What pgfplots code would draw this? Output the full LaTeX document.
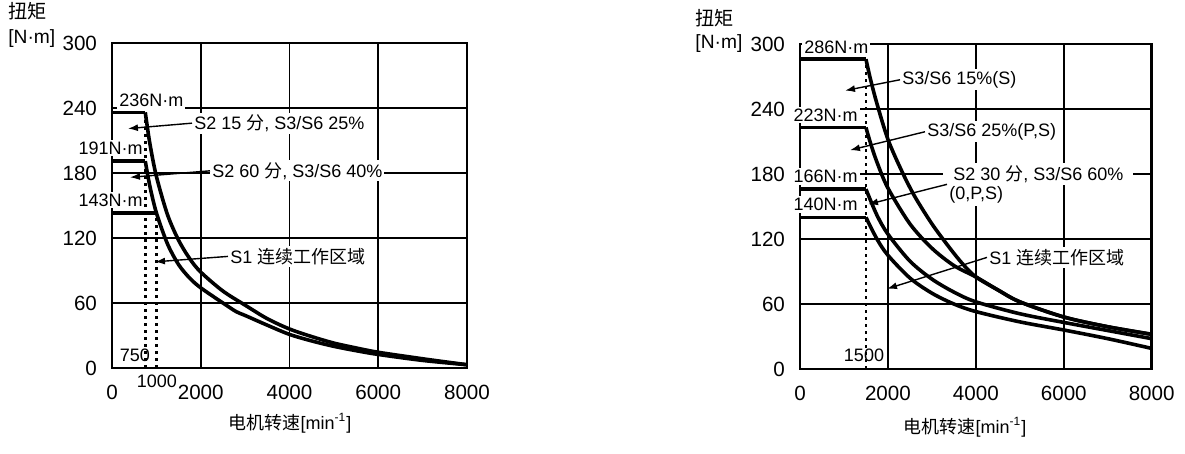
\documentclass[border=0pt]{standalone}
\usepackage{pgfplots}
\pgfplotsset{compat=1.18}
\usepackage{fontspec}
\setmainfont{Liberation Sans}
\newfontfamily\cjk{Noto Sans CJK SC}
\usetikzlibrary{arrows.meta}

\newcommand{\lab}{\fontsize{9}{10}\selectfont}
\newcommand{\ylab}{\fontsize{9.6}{11}\selectfont}

\pgfplotsset{
  torque/.style={
    scale only axis, anchor=south west, clip=false,
    height=162.5pt,
    xmin=0, xmax=8000, ymin=0, ymax=300,
    xtick={0,2000,4000,6000,8000},
    ytick={0,60,120,180,240,300},
    scaled ticks=false,
    grid=major,
    major grid style={black, line width=0.9pt},
    axis line style={line width=1.2pt},
    major tick length=0pt,
    tick label style={font=\fontsize{10.3}{12}\selectfont},
    /pgf/number format/assume math mode=true,
    /pgf/number format/set thousands separator={},
    yticklabel style={xshift=-4pt},
    xticklabel style={yshift=-5pt},
  },
  curve/.style={black, line width=1.8pt, no markers},
  flat/.style={black, line width=1.8pt, no markers},
  dots/.style={black, line width=1.4pt, dash pattern=on 1.4pt off 2.1pt, no markers},
}
\tikzset{
  lbl/.style={fill=white, inner sep=1pt, font=\lab},
  arr/.style={-{Latex[length=5pt,width=3.5pt]}, line width=0.7pt},
}

\begin{document}
\begin{tikzpicture}
\path[use as bounding box] (0,0) rectangle (592.5pt,227pt);

% left: 750 / 1000 rpm motor
\begin{axis}[torque, at={(56pt,43pt)}, width=177.5pt]
  \node[lbl, anchor=west] at (axis cs:113,247) {236N·m};
  \node[lbl, anchor=east] at (axis cs:744,203) {191N·m};
  \node[lbl, anchor=east] at (axis cs:744,155) {143N·m};
  \node[lbl, anchor=west] (a1) at (axis cs:1803,226) {S2 15 {\cjk 分}, S3/S6 25\%};
  \node[lbl, anchor=west] (a2) at (axis cs:2208,182) {S2 60 {\cjk 分}, S3/S6 40\%};
  \node[lbl, anchor=west] (a3) at (axis cs:2614,103) {S1 {\cjk 连续工作区域}};
  \node[font=\lab] at (axis cs:518,12) {750};
  \node[font=\lab] at (axis cs:1014,-12) {1000};
  \node[font=\ylab, anchor=west, inner sep=0pt] at (axis cs:-2344,329) {\cjk 扭矩};
  \node[font=\ylab, anchor=west, inner sep=0pt] at (axis cs:-2344,304) {[N·m]};
  \node[font=\lab] at (axis cs:4011,-51) {{\cjk 电机转速}[min\textsuperscript{-1}]};

  \addplot[dots] coordinates {(750,0) (750,232)};
  \addplot[dots] coordinates {(1000,0) (1000,140)};

  \addplot[flat] coordinates {(0,236) (750,236)};
  \addplot[flat] coordinates {(0,191) (750,191)};
  \addplot[flat] coordinates {(0,143) (1000,143)};
  \addplot[curve, smooth] coordinates {
    (750,236) (850,208) (1000,177) (1250,141.6) (1500,118) (1750,101)
    (2000,88.5) (2500,71) (3000,58) (3500,45.5) (4000,36) (4500,29)
    (5000,23) (5500,18.5) (6000,14.5) (7000,8.5) (8000,3)};
  \addplot[curve, smooth] coordinates {
    (750,191) (850,168.5) (1000,143.3) (1250,114.6) (1500,95.5) (1750,83)
    (2000,74) (2500,60) (2800,52) (3000,48.5) (3500,39.5) (4000,31)
    (4500,25) (5000,20) (5500,16) (6000,12.5) (7000,7) (8000,3)};

  \draw[arr] (a1.west) -- (axis cs:360,221);
  \draw[arr] (a2.west) -- (axis cs:405,176);
  \draw[arr] (a3.west) -- (axis cs:969,98);
\end{axis}

% right: 1500 rpm motor
\begin{axis}[torque, at={(400pt,42.5pt)}, width=175.85pt]
  \node[lbl, anchor=west] at (axis cs:45,297) {286N·m};
  \node[lbl, anchor=east] at (axis cs:1365,234.5) {223N·m};
  \node[lbl, anchor=east] at (axis cs:1365,178) {166N·m};
  \node[lbl, anchor=east] at (axis cs:1365,152) {140N·m};
  \node[lbl, anchor=west] (b1) at (axis cs:2275,267) {S3/S6 15\%(S)};
  \node[lbl, anchor=west] (b2) at (axis cs:2843,219) {S3/S6 25\%(P,S)};
  \node[lbl, anchor=west, inner xsep=5pt] (b3) at (axis cs:3250,180) {S2 30 {\cjk 分}, S3/S6 60\%};
  \node[lbl, anchor=west] (b4) at (axis cs:3344,160.5) {(0,P,S)};
  \node[lbl, anchor=west] (b5) at (axis cs:4254,103) {S1 {\cjk 连续工作区域}};
  \node[font=\lab] at (axis cs:1456,13) {1500};
  \node[font=\ylab, anchor=west, inner sep=0pt] at (axis cs:-2388,324) {\cjk 扭矩};
  \node[font=\ylab, anchor=west, inner sep=0pt] at (axis cs:-2388,300) {[N·m]};
  \node[font=\lab] at (axis cs:3753,-54) {{\cjk 电机转速}[min\textsuperscript{-1}]};

  \addplot[dots] coordinates {(1500,0) (1500,282)};

  \addplot[flat] coordinates {(0,286) (1500,286)};
  \addplot[flat] coordinates {(0,223) (1500,223)};
  \addplot[flat] coordinates {(0,166) (1500,166)};
  \addplot[flat] coordinates {(0,140) (1500,140)};
  \addplot[curve, smooth] coordinates {
    (1500,286) (1600,268) (1750,245) (2000,212) (2300,184) (2600,160)
    (3000,134) (3400,112) (3700,97) (4000,85) (4500,73) (5000,62)
    (6000,48) (7000,39) (8000,32)};
  \addplot[curve, smooth] coordinates {
    (1500,223) (1600,209) (1750,191) (2000,167) (2500,134) (3000,111.5)
    (3500,95.5) (4000,85) (4500,73) (5000,62) (6000,48) (7000,39) (8000,32)};
  \addplot[curve, smooth] coordinates {
    (1500,166) (1750,142) (2000,124.5) (2500,99.6) (3000,83) (3500,71)
    (4000,62) (5000,51) (6000,43) (7000,35.5) (8000,28)};
  \addplot[curve, smooth] coordinates {
    (1500,140) (1750,120) (2000,105) (2500,84) (3000,70) (3500,60)
    (4000,53) (5000,43.5) (6000,36) (7000,28) (8000,19)};

  \draw[arr] (b1.west) -- (axis cs:1024,257);
  \draw[arr] (b2.west) -- (axis cs:1137,202);
  \draw[arr] (b4.north west) -- (axis cs:1547,152);
  \draw[arr] (b5.west) -- (axis cs:1979,74);
\end{axis}
\end{tikzpicture}
\end{document}
